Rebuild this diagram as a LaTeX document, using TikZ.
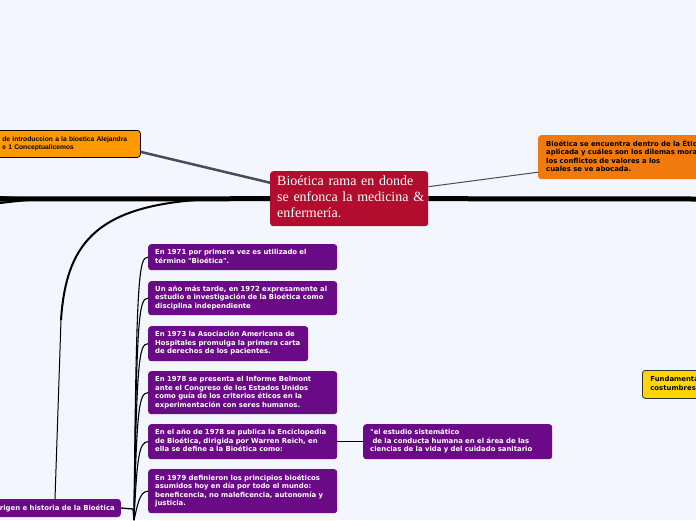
\documentclass[tikz,border=0pt]{standalone}
\usepackage{fontspec}
\setmainfont{Liberation Serif}
\newfontfamily\vfont{DejaVu Sans}
\newfontfamily\afont{Liberation Sans}
\usetikzlibrary{calc}
\definecolor{bgc}{RGB}{243,246,254}
\definecolor{crim}{RGB}{178,13,46}
\definecolor{purp}{RGB}{106,10,134}
\definecolor{orl}{RGB}{255,153,0}
\definecolor{orr}{RGB}{240,122,14}
\definecolor{yel}{RGB}{255,214,0}
\definecolor{gconn}{RGB}{72,77,88}
\newcommand\mylines[1]{\begin{tabular}{@{}l@{}}#1\end{tabular}}
\tikzset{
  box/.style={anchor=north west, rounded corners=3pt, inner xsep=7pt, inner ysep=0pt,
    align=left, font=\vfont\bfseries\fontsize{6.9}{8.5}\selectfont},
  pbox/.style={box, fill=purp, text=white},
  bar/.style={line width=5pt, black},
  twig/.style={line width=1.3pt, black},
}
\begin{document}
\begin{tikzpicture}[x=1pt,y=-1pt]
\useasboundingbox (0,0) rectangle (696,520);
\fill[bgc] (0,0) rectangle (696,520);
\clip (0,0) rectangle (696,520);

% central
\node[anchor=north west, fill=crim, rounded corners=3pt, text=white, align=left,
  inner xsep=7pt, inner ysep=0pt, text width=144pt, minimum height=55pt,
  font=\fontsize{14}{16}\selectfont] (c) at (270,171)
  {\mylines{Bioética rama en donde\\se enfonca la medicina \&\\enfermería.}};

% other top nodes
\node[box, fill=orl, draw=black, line width=0.8pt, text=black, text width=130pt,
  minimum height=27pt, inner xsep=8pt, font=\afont\bfseries\fontsize{6.7}{8}\selectfont] (ol) at (-6,130)
  {\mylines{de introduccion a la bioetica Alejandra\\e 1 Conceptualicemos}};
\node[box, fill=orr, text=black, text width=170pt, minimum height=44pt, inner xsep=8pt] (or) at (538,135)
  {\mylines{Bioética se encuentra dentro de la Étic\\aplicada y cuáles son los dilemas mora\\los conflictos de valores a los\\cuales se ve abocada.}};
\node[box, fill=yel, draw=black!80, line width=0.8pt, text=black, text width=60pt,
  minimum height=28pt, inner xsep=8pt] (ye) at (642,370)
  {\mylines{Fundamenta\\costumbres}};

% connectors to central
\draw[gconn, line width=2.5pt] ($(ol.east)+(0,8)$) -- ($(c.west)+(0,-16)$);
\draw[gconn, line width=1pt] ($(c.east)+(0,-12)$) -- ($(or.west)+(0,15)$);

% main bar
\coordinate (Lend) at (0,199);
\coordinate (Rend) at (696,199);
\coordinate (La) at (0,203);
\coordinate (Lb) at (0,197);
\coordinate (Lsplit) at (80,199);
\draw[bar] (c.west) -- (Lend);
\draw[line width=2pt] (Lsplit) .. controls (35,199) .. (La);
\draw[line width=2pt] (Lsplit) .. controls (35,199) .. (Lb);
\draw[bar] (c.east) -- (Rend);

% purple timeline nodes
\node[pbox, text width=175pt, minimum height=26pt] (n1) at (148,244)
  {\mylines{En 1971 por primera vez es utilizado el\\término "Bioética".}};
\node[pbox, text width=175pt, minimum height=34pt] (n2) at (148,281)
  {\mylines{Un año más tarde, en 1972 expresamente al\\estudio e investigación de la Bioética como\\disciplina independiente}};
\node[pbox, text width=146pt, minimum height=35pt] (n3) at (148,326)
  {\mylines{En 1973 la Asociación Americana de\\Hospitales promulga la primera carta\\de derechos de los pacientes.}};
\node[pbox, text width=175pt, minimum height=43pt] (n4) at (148,371)
  {\mylines{En 1978 se presenta el Informe Belmont\\ante el Congreso de los Estados Unidos\\como guía de los criterios éticos en la\\experimentación con seres humanos.}};
\node[pbox, text width=175pt, minimum height=35pt] (n5) at (148,424)
  {\mylines{En el año de 1978 se publica la Enciclopedia\\de Bioética, dirigida por Warren Reich, en\\ella se define a la Bioética como:}};
\node[pbox, text width=175pt, minimum height=44pt] (n6) at (148,469)
  {\mylines{En 1979 definieron los principios bioéticos\\asumidos hoy en día por todo el mundo:\\beneficencia, no maleficencia, autonomía y\\justicia.}};
\node[pbox, text width=175pt, minimum height=35pt] (n7) at (363,424)
  {\mylines{"el estudio sistemático\\\ de la conducta humana en el área de las\\ciencias de la vida y del cuidado sanitario}};
\node[pbox, anchor=east, minimum height=18pt, inner xsep=6pt] (og) at (121,508)
  {Origen e historia de la Bioética};

% origin branch from bar
\coordinate (br) at (196,200);
\coordinate (vt) at (61,320);
\coordinate (ob) at (55,499);
\draw[line width=2pt] (br) .. controls (95,208) and (66,245) .. (vt);
\draw[line width=1pt] (vt) -- (ob);

% bundle
\coordinate (bj) at (133,509);
\coordinate (bb) at (134,520);
\draw[twig] (og.east) -- (bj);
\draw[twig] (bb) -- (bj);
\foreach \n/\d in {n1/1.0,n2/1.8,n3/2.4,n4/3.0,n5/3.6,n6/4.2}{
  \draw[line width=1.1pt] (bb) .. controls ($(\n.west)+(-12+\d*0.3,16)$) and ($(\n.west)+(-9,0)$) .. (\n.west);
}
\draw[twig] (n5.east) -- (n7.west);
\end{tikzpicture}
\end{document}
